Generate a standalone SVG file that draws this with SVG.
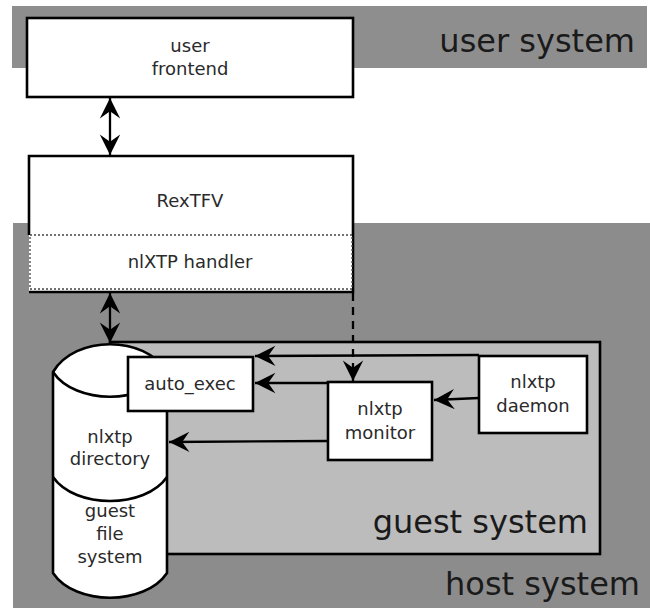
<svg xmlns="http://www.w3.org/2000/svg" width="650" height="608" viewBox="0 0 650 608">
<style>
.lbl{font-family:"DejaVu Sans","Liberation Sans",sans-serif;font-size:18px;fill:#2a2a2a;text-anchor:middle}
.big{font-family:"DejaVu Sans","Liberation Sans",sans-serif;font-size:32px;fill:#1a1a1a;text-anchor:end}
.box{fill:#fff;stroke:#000;stroke-width:2.6}
.con{fill:none;stroke:#000;stroke-width:2.3}
</style>
<defs>
<marker id="ah" markerUnits="userSpaceOnUse" markerWidth="24" markerHeight="24" viewBox="-19 -10 20 20" refX="0" refY="0" orient="auto-start-reverse">
<path d="M0,0 L-17,-8.5 L-11,0 L-17,8.5 Z" fill="#000"/>
</marker>
</defs>
<g id="bands">
<rect x="13" y="223" width="637" height="385" fill="#8c8c8c"/>
<rect x="12" y="6" width="635" height="62" fill="#8e8e8e"/>
<text class="big" x="635" y="52">user system</text>
<text class="big" x="640" y="595">host system</text>
</g>
<g id="guest-system">
<rect x="110" y="342" width="490" height="212" fill="#bcbcbc" stroke="#000" stroke-width="2.6"/>
<text class="big" x="588" y="533">guest system</text>
</g>
<g id="user-frontend">
<rect class="box" x="27" y="18" width="326" height="79"/>
<text class="lbl" x="190" y="52">user</text>
<text class="lbl" x="190" y="75">frontend</text>
</g>
<g id="rextfv">
<rect x="29" y="156" width="324" height="136" fill="#fff"/>
<path d="M29,235 V156 H353 V292 H29" fill="none" stroke="#000" stroke-width="2.6"/>
<rect x="30" y="235" width="322" height="54" fill="#fff" stroke="#444" stroke-width="1.3" stroke-dasharray="2,2"/>
<text class="lbl" x="190" y="207">RexTFV</text>
<text class="lbl" x="190" y="268">nlXTP handler</text>
</g>
<g id="storage">
<path d="M53,372 C75,335 145,335 167,372 V573 C145,606 75,606 53,573 Z" fill="#fff" stroke="#000" stroke-width="2.6"/>
<path d="M53,372 C75,405 145,405 167,372 M53,477 C75,509 145,509 167,477" fill="none" stroke="#000" stroke-width="2.6"/>
<text class="lbl" x="110" y="443">nlxtp</text>
<text class="lbl" x="110" y="465">directory</text>
<text class="lbl" x="110" y="517">guest</text>
<text class="lbl" x="110" y="540">file</text>
<text class="lbl" x="110" y="563">system</text>
</g>
<g id="auto-exec">
<rect class="box" x="128" y="357" width="125" height="54"/>
<text class="lbl" x="190" y="390">auto_exec</text>
</g>
<g id="nlxtp-monitor">
<rect class="box" x="328" y="382" width="104" height="78"/>
<text class="lbl" x="380" y="415">nlxtp</text>
<text class="lbl" x="380" y="439">monitor</text>
</g>
<g id="nlxtp-daemon">
<rect class="box" x="479" y="356" width="108" height="77"/>
<text class="lbl" x="533" y="388">nlxtp</text>
<text class="lbl" x="533" y="412">daemon</text>
</g>
<g id="connectors">
<line class="con" x1="110" y1="98" x2="110" y2="155" marker-start="url(#ah)" marker-end="url(#ah)"/>
<line class="con" x1="110" y1="293" x2="110" y2="343" marker-start="url(#ah)" marker-end="url(#ah)"/>
<line class="con" x1="353" y1="293" x2="353" y2="381" stroke-dasharray="8,6" marker-end="url(#ah)"/>
<line class="con" x1="479" y1="355" x2="255" y2="356" marker-end="url(#ah)"/>
<line class="con" x1="328" y1="383" x2="255" y2="383" marker-end="url(#ah)"/>
<line class="con" x1="328" y1="441" x2="169" y2="442" marker-end="url(#ah)"/>
<line class="con" x1="479" y1="398" x2="434" y2="400" marker-end="url(#ah)"/>
</g>
</svg>
